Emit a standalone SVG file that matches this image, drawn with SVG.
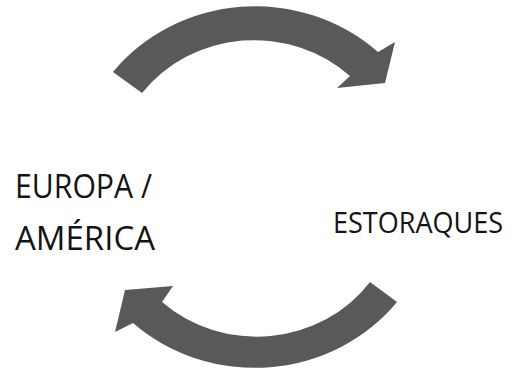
<svg xmlns="http://www.w3.org/2000/svg" width="528" height="369" viewBox="0 0 528 369">
<style>
.arrow{fill:#595959;stroke:none}
.lbl{font-family:"Open Sans","Liberation Sans",sans-serif;font-size:32px;fill:#141414}
.lbl2{font-family:"Open Sans","Liberation Sans",sans-serif;font-size:30px;fill:#141414}
</style>
<rect width="528" height="369" fill="#ffffff"/>
<g id="connectors">
<path id="arrow-top" class="arrow" d="M113,72 A180,170 0 0 1 378,52 L395,42 L385,83 L337,88 L350,76 A140,132 0 0 0 142,93 Z"/>
<path id="arrow-bottom" class="arrow" d="M397,302 A180,170 0 0 1 133,323 L115,332 L125,290 L173,286 L162,302 A140,132 0 0 0 370,282 Z"/>
</g>
<g id="node-europa">
<text class="lbl" x="15" y="198" textLength="137" lengthAdjust="spacingAndGlyphs">EUROPA /</text>
<text class="lbl" x="15" y="250" textLength="140" lengthAdjust="spacingAndGlyphs">AMÉRICA</text>
</g>
<g id="node-estoraques">
<text class="lbl2" x="333" y="233" textLength="170" lengthAdjust="spacingAndGlyphs">ESTORAQUES</text>
</g>
</svg>
